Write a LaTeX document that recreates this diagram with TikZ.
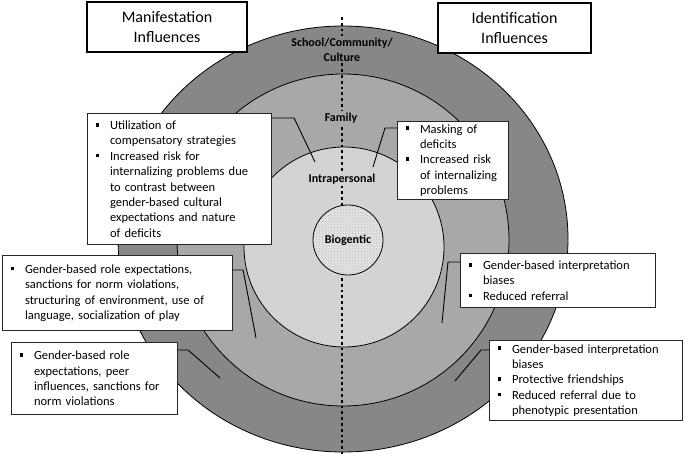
\documentclass[tikz,border=0pt]{standalone}
\usepackage{fontspec}
\setmainfont{Carlito}
\usetikzlibrary{patterns}
\definecolor{outerc}{HTML}{878787}
\definecolor{famc}{HTML}{A8A8A8}
\definecolor{intrac}{HTML}{D3D3D3}
\definecolor{bioc}{HTML}{E4E4E4}
\newcommand\bitem{\makebox[14.5pt][l]{\raisebox{2.8pt}{\rule{3.8pt}{3.8pt}}}}
\newcommand\bcont{\hspace*{14.5pt}}
\begin{document}
\begin{tikzpicture}[x=1pt,y=-1pt,
  titlebox/.style={draw=black, line width=1.6pt, fill=white, align=center,
    font=\fontsize{16}{20}\selectfont, inner sep=0pt},
  infobox/.style={draw=black!85, line width=1.1pt, fill=white, anchor=north west,
    align=left, inner xsep=8pt, inner ysep=0pt,
    font=\fontsize{12.5}{15.4}\selectfont},
  lbl/.style={font=\bfseries\fontsize{12}{15}\selectfont, inner sep=1.5pt, align=center},
  conn/.style={draw=black, line width=0.9pt},
  ring/.style={draw=black, line width=0.8pt}]
\useasboundingbox (0,0) rectangle (685,454);
% rings
\fill[white] (0,0) rectangle (685,454);
\draw[ring, fill=outerc] (343,239) ellipse [x radius=225pt, y radius=213pt];
\draw[ring, fill=famc] (343,240) circle [radius=166pt];
\draw[ring, fill=intrac] (344,247) circle [radius=100pt];
% dotted divider
\coordinate (dtop) at (342,17);
\coordinate (dbot) at (342,456);
\draw[line width=2.8pt, dash pattern=on 2.8pt off 3pt] (dtop) -- (dbot);
% biogentic
\node[circle, ring, minimum size=70pt, inner sep=0pt,
  preaction={fill=bioc}, pattern=crosshatch dots, pattern color=gray!60,
  font=\bfseries\fontsize{12}{15}\selectfont] (bio) at (348,240) {Biogentic};
% labels
\node[lbl, fill=outerc] (lcult) at (342,49.5) {School/Community/\\Culture};
\node[lbl, fill=famc] (lfam) at (341,118) {Family};
\node[lbl, fill=intrac] (lintra) at (342,179) {Intrapersonal};
% title boxes
\node[titlebox, minimum width=160pt, minimum height=50pt] (man) at (167,27) {Manifestation\\Influences};
\node[titlebox, minimum width=153pt, minimum height=50pt] (ide) at (514.5,28) {Identification\\Influences};
% info boxes
\node[infobox, text width=168pt, minimum height=131pt] (A) at (87,113)
 {\bitem Utilization of\\ \bcont compensatory strategies\\ \bitem Increased risk for\\ \bcont internalizing problems due\\ \bcont to contrast between\\ \bcont gender-based cultural\\ \bcont expectations and nature\\ \bcont of deficits};
\node[infobox, text width=95pt, minimum height=78pt] (B) at (397,121)
 {\bitem Masking of\\ \bcont deficits\\ \bitem Increased risk\\ \bcont of internalizing\\ \bcont problems};
\node[infobox, text width=214pt, minimum height=75pt] (C) at (2,255)
 {\bitem Gender-based role expectations,\\ \bcont sanctions for norm violations,\\ \bcont structuring of environment, use of\\ \bcont language, socialization of play};
\node[infobox, text width=150pt, minimum height=72pt] (D) at (11,342)
 {\bitem Gender-based role\\ \bcont expectations, peer\\ \bcont influences, sanctions for\\ \bcont norm violations};
\node[infobox, text width=179pt, minimum height=54pt] (E) at (460,253)
 {\bitem Gender-based interpretation\\ \bcont biases\\ \bitem Reduced referral};
\node[infobox, text width=177pt, minimum height=80pt] (F) at (489,340)
 {\bitem Gender-based interpretation\\ \bcont biases\\ \bitem Protective friendships\\ \bitem Reduced referral due to\\ \bcont phenotypic presentation};
% connector ends
\coordinate (eA) at (315,162);
\coordinate (eB) at (373,167);
\coordinate (eC) at (256,338);
\coordinate (eD) at (220,378);
\coordinate (eE) at (442,323);
\coordinate (eF) at (455,381);
\draw[conn] ([yshift=-5pt]A.north east) -- ++(22,0) -- (eA);
\draw[conn] ([yshift=-7pt]B.north west) -- ++(-12,0) -- (eB);
\draw[conn] ([yshift=-15pt]C.north east) -- ++(10,0) -- (eC);
\draw[conn] ([yshift=-8pt]D.north east) -- ++(10,0) -- (eD);
\draw[conn] ([yshift=-9pt]E.north west) -- ++(-12,0) -- (eE);
\draw[conn] ([yshift=-10pt]F.north west) -- ++(-8,0) -- (eF);
\end{tikzpicture}
\end{document}
